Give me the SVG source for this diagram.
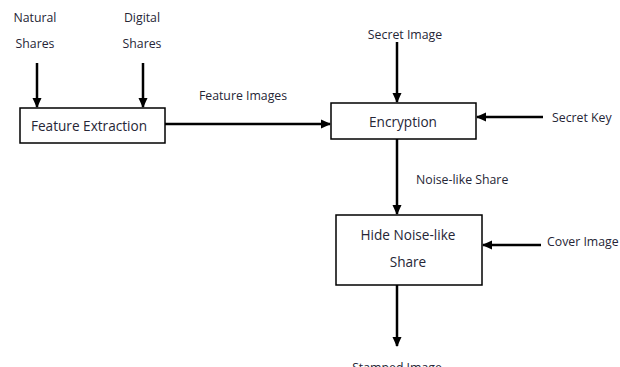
<svg xmlns="http://www.w3.org/2000/svg" width="620" height="367" viewBox="0 0 620 367">
<style>
text{font-family:"Open Sans","Liberation Sans",sans-serif;font-size:12.3px;fill:#262636}
.b{font-size:13.6px}
.box{fill:#fff;stroke:#000;stroke-width:1.5}
.c{stroke:#000;stroke-width:2.5;fill:none;marker-end:url(#ah)}
.m{text-anchor:middle}
</style>
<defs>
<marker id="ah" markerWidth="4" markerHeight="4" refX="3.6" refY="2" orient="auto" markerUnits="strokeWidth">
<path d="M0,0.2 L4,2 L0,3.8 Z" fill="#000"/>
</marker>
</defs>
<rect width="620" height="367" fill="#fff"/>
<g id="connectors">
<line class="c" x1="37" y1="63" x2="37" y2="107"/>
<line class="c" x1="143" y1="63" x2="143" y2="107"/>
<line class="c" x1="165" y1="124" x2="330" y2="124"/>
<line class="c" x1="397" y1="42" x2="397" y2="102"/>
<line class="c" x1="543" y1="117" x2="477" y2="117"/>
<line class="c" x1="397" y1="139" x2="397" y2="214"/>
<line class="c" x1="541" y1="245" x2="483" y2="245"/>
<line class="c" x1="397" y1="285" x2="397" y2="346"/>
</g>
<g id="natural-shares"><text class="m" x="35" y="22">Natural</text><text class="m" x="35" y="48">Shares</text></g>
<g id="digital-shares"><text class="m" x="142" y="22">Digital</text><text class="m" x="142" y="48">Shares</text></g>
<g id="feature-extraction"><rect class="box" x="20" y="108" width="145" height="35"/><text class="m b" x="89" y="131">Feature Extraction</text></g>
<g id="feature-images"><text class="m" x="243" y="100">Feature Images</text></g>
<g id="secret-image"><text class="m" x="405" y="39">Secret Image</text></g>
<g id="encryption"><rect class="box" x="331" y="103" width="145" height="36"/><text class="m b" x="403" y="127">Encryption</text></g>
<g id="secret-key"><text x="552" y="122">Secret Key</text></g>
<g id="noise-share-label"><text x="416" y="184">Noise-like Share</text></g>
<g id="hide"><rect class="box" x="336" y="215" width="146" height="70"/><text class="m b" x="408" y="240">Hide Noise-like</text><text class="m b" x="408" y="267">Share</text></g>
<g id="cover-image"><text x="547" y="246">Cover Image</text></g>
<g id="stamped-image"><text class="m" x="397" y="372">Stamped Image</text></g>
</svg>
